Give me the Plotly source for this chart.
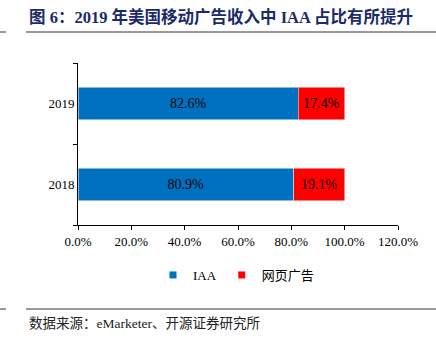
import plotly.graph_objects as go

years = ["2018", "2019"]
iaa = [80.9, 82.6]
web = [19.1, 17.4]
series_names = ["IAA", "网页广告"]
series_colors = ["#0070C0", "#FF0000"]
title_text = "图 6：2019 年美国移动广告收入中 IAA 占比有所提升"
source_text = "数据来源：eMarketer、开源证券研究所"

W, H = 436, 339
L, R, T, B = 78, 398, 63, 225  # plot area pixels

def px_x(px):
    return (px - L) / (R - L)

def px_y(py):
    return (B - py) / (B - T)

serif = "Liberation Serif, Times New Roman, Noto Sans CJK SC, serif"

fig = go.Figure()
for vals, name, col, edge in ((iaa, series_names[0], series_colors[0], "#dbe7f3"),
                              (web, series_names[1], series_colors[1], "#f3d0d0")):
    fig.add_trace(go.Bar(
        y=years, x=vals, orientation="h", name=name, showlegend=False,
        marker=dict(color=col, line=dict(width=0.6, color=edge)),
        texttemplate="%{x:.1f}%", textposition="inside", insidetextanchor="middle",
        textfont=dict(family=serif, size=14, color="black"),
    ))
# legend entries with small square swatches
for name, col in zip(series_names, series_colors):
    fig.add_trace(go.Scatter(x=[None], y=[None], mode="markers", name=name,
                             marker=dict(symbol="square", size=7, color=col)))

fig.update_layout(
    width=W, height=H,
    margin=dict(l=L, r=W - R, t=T, b=H - B),
    barmode="stack", bargap=0.6,
    plot_bgcolor="white", paper_bgcolor="white",
    font=dict(family=serif, size=12, color="black"),
    showlegend=True,
    legend=dict(orientation="h", x=px_x(236), y=px_y(260), xanchor="center", yanchor="top",
                font=dict(family=serif, size=13),
                itemwidth=30, traceorder="normal", bgcolor="rgba(0,0,0,0)"),
    xaxis=dict(range=[0, 120], dtick=20, tickformat=".1f", ticksuffix="%",
               showgrid=False, zeroline=False, showline=True, linecolor="black", linewidth=1,
               ticks="outside", ticklen=4, tickcolor="black",
               tickfont=dict(family=serif, size=13)),
    yaxis=dict(range=[-0.5, 1.5], showgrid=False, zeroline=False, showline=True,
               linecolor="black", linewidth=1, ticks="outside", ticklen=4, tickcolor="black",
               tickson="boundaries", tickfont=dict(family=serif, size=13)),
)

# title
fig.add_annotation(x=px_x(27), y=px_y(17), xref="paper", yref="paper", text="<b>" + title_text + "</b>",
                   showarrow=False, xanchor="left", yanchor="middle",
                   font=dict(family=serif, size=16.5, color="#1b2a6b"))
# source
fig.add_annotation(x=px_x(27), y=px_y(323), xref="paper", yref="paper", text=source_text,
                   showarrow=False, xanchor="left", yanchor="middle",
                   font=dict(family=serif, size=13.5, color="#222222"))

for py in (32, 309):
    fig.add_shape(type="line", xref="paper", yref="paper", x0=px_x(0), x1=px_x(6), y0=px_y(py), y1=px_y(py),
                  line=dict(color="#333333", width=1))
    fig.add_shape(type="line", xref="paper", yref="paper", x0=px_x(26), x1=px_x(436), y0=px_y(py), y1=px_y(py),
                  line=dict(color="#333333", width=1))

fig.write_html("out.html")
